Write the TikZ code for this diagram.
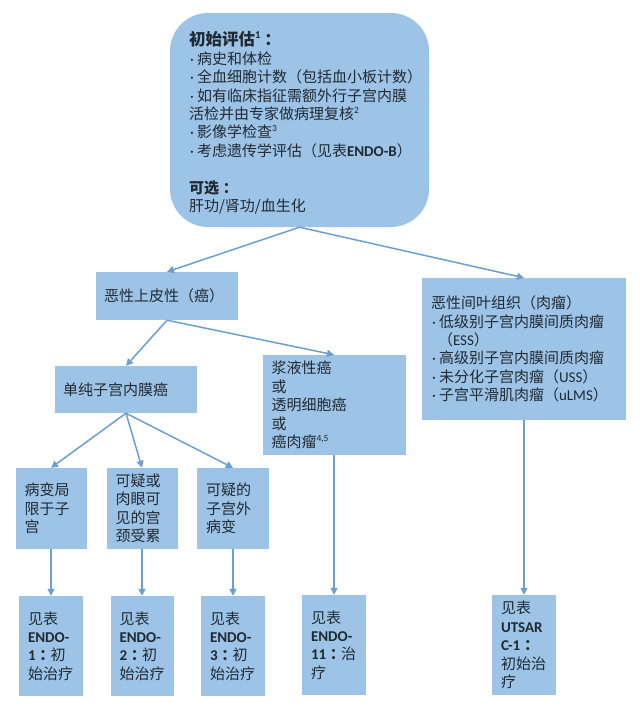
\documentclass[tikz,border=0pt]{standalone}
\usepackage{fontspec}
\setmainfont{Noto Sans CJK SC}
\newfontfamily\latfont{Carlito}
\newcommand{\lt}[1]{{\latfont #1}}
\newcommand{\ltb}[1]{{\latfont\bfseries #1}}
\newcommand{\sups}[1]{\raisebox{0.42em}{\fontsize{9.5}{9.5}\selectfont\latfont #1}}
\newcommand{\bul}{\makebox[8pt][l]{\latfont\hspace{1pt}·}}
\newcommand{\cln}{\hspace*{.25em}{\bfseries ：}\hspace*{-.25em}}
\usetikzlibrary{arrows.meta}
\definecolor{boxblue}{HTML}{9DC3E6}
\definecolor{linkblue}{HTML}{6A9FD0}
\definecolor{inktext}{HTML}{1F2A33}
\tikzset{
  x=1pt,y=-1pt,
  box/.style n args={3}{fill=boxblue,draw=none,text=inktext,rectangle,
    font=\fontsize{15}{18.4}\selectfont,align=left,anchor=center,
    inner ysep=0pt,inner xsep=#3pt,
    minimum width=#1pt,minimum height=#2pt,text width={(#1-2*#3)*1pt}},
  link/.style={draw=linkblue,line width=1.5pt,-{Triangle[length=7pt,width=7pt]}}
}
\begin{document}
\begin{tikzpicture}
\useasboundingbox (0,0) rectangle (640,707);
% top
\node[box={259}{214}{19},rounded corners=38pt] (top) at (299.5,120) {\rule{0pt}{20pt}{\fontsize{16.5}{18.4}\selectfont\bfseries 初始评估\sups{\fontsize{10.5}{10.5}\selectfont\textbf{1}}\cln}\\
\bul 病史和体检\\
\bul 全血细胞计数（包括血小板计数）\\
\bul 如有临床指征需额外行子宫内膜\\
活检并由专家做病理复核\sups{2}\\
\bul 影像学检查\sups{3}\\
\mbox{\bul 考虑遗传学评估（见表\ltb{ENDO-B}）}\\[18.4pt]
{\bfseries 可选\cln}\\
肝功/肾功/血生化};
% level 2
\node[box={142}{48}{8}] (epi) at (167,296) {恶性上皮性（癌）};
\node[box={204}{142}{9}] (sar) at (524,349) {恶性间叶组织（肉瘤）\\
\bul 低级别子宫内膜间质肉瘤\\
\hspace*{7pt}（\lt{ESS}）\\
\bul 高级别子宫内膜间质肉瘤\\
\bul 未分化子宫肉瘤（\lt{USS}）\\
\bul 子宫平滑肌肉瘤（\lt{uLMS}）};
\node[box={142}{47}{8}] (endo) at (126,389.5) {单纯子宫内膜癌};
\node[box={143}{100}{9}] (ser) at (334,405) {浆液性癌\\或\\透明细胞癌\\或\\癌肉瘤\sups{4,5}};
% level 4
\node[box={71}{81}{9}] (a) at (51,508.5) {病变局\\限于子\\宫};
\node[box={71}{81}{9}] (b) at (142,508.5) {可疑或\\肉眼可\\见的宫\\颈受累};
\node[box={72}{81}{9}] (c) at (233,508.5) {可疑的\\子宫外\\病变};
% level 5
\node[box={64}{100}{9}] (a2) at (51,646) {见表\\\ltb{ENDO-}\\\ltb{1}\cln 初\\始治疗};
\node[box={63}{100}{9}] (b2) at (142,646) {见表\\\ltb{ENDO-}\\\ltb{2}\cln 初\\始治疗};
\node[box={64}{100}{9}] (c2) at (233,646) {见表\\\ltb{ENDO-}\\\ltb{3}\cln 初\\始治疗};
\node[box={64}{100}{9}] (d2) at (334,645) {见表\\\ltb{ENDO-}\\\ltb{11}\cln 治\\疗};
\node[box={64}{100}{9}] (e2) at (524,645) {见表\\\ltb{UTSAR}\\\ltb{C-1}\cln\\初始治\\疗};
% links
\draw[link] (top.south) -- (epi.north);
\draw[link] (top.south) -- (sar.north);
\draw[link] (epi.south) -- (ser.north);
\draw[link] (epi.south) -- (endo.north);
\draw[link] (endo.south) -- (a.north);
\draw[link] (endo.south) -- (b.north);
\draw[link] (endo.south) -- (c.north);
\draw[link] (a.south) -- (a2.north);
\draw[link] (b.south) -- (b2.north);
\draw[link] (c.south) -- (c2.north);
\draw[link] (ser.south) -- (d2.north);
\draw[link] (sar.south) -- (e2.north);
\end{tikzpicture}
\end{document}
